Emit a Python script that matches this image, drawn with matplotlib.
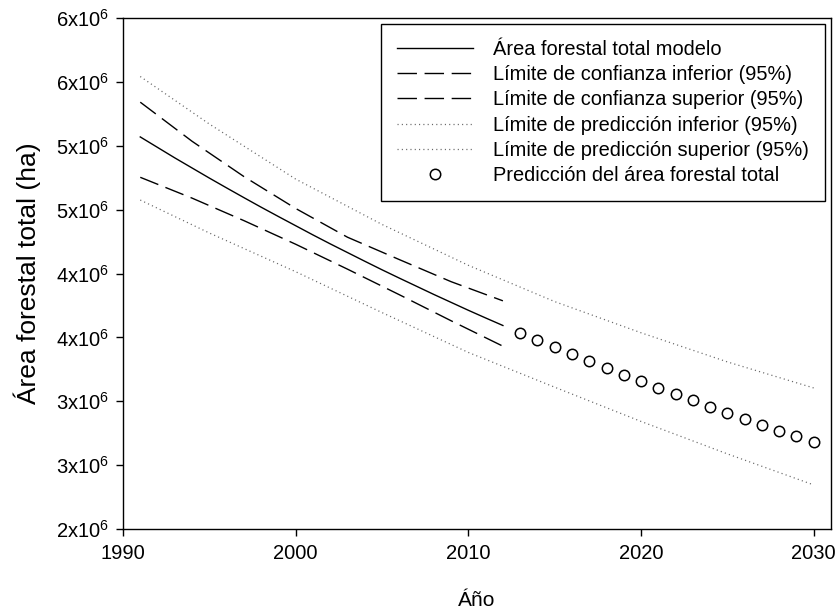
import matplotlib
matplotlib.use("Agg")
import matplotlib.pyplot as plt
import numpy as np

plt.rcParams['font.family'] = ['Liberation Sans', 'DejaVu Sans']
plt.rcParams['mathtext.fontset'] = 'custom'
plt.rcParams['mathtext.rm'] = 'Liberation Sans'
plt.rcParams['mathtext.it'] = 'Liberation Sans'
plt.rcParams['lines.scale_dashes'] = False

# ---- data (ha) ----
model_years = list(range(1991, 2013))
model_vals = [5.069e6, 4.987e6, 4.905e6, 4.826e6, 4.747e6, 4.670e6, 4.594e6, 4.519e6,
              4.446e6, 4.374e6, 4.302e6, 4.232e6, 4.164e6, 4.096e6, 4.029e6, 3.964e6,
              3.900e6, 3.836e6, 3.774e6, 3.712e6, 3.652e6, 3.593e6]

ci_years = [1991, 1994, 1997, 2000, 2003, 2006, 2009, 2012]
ci_lower = [4.753e6, 4.590e6, 4.414e6, 4.229e6, 4.034e6, 3.834e6, 3.630e6, 3.431e6]
ci_upper = [5.341e6, 5.035e6, 4.759e6, 4.509e6, 4.284e6, 4.109e6, 3.936e6, 3.786e6]

pi_years = [1991, 1995, 2000, 2005, 2010, 2015, 2020, 2025, 2030]
pi_lower = [4.575e6, 4.317e6, 4.014e6, 3.694e6, 3.382e6, 3.110e6, 2.842e6, 2.588e6, 2.345e6]
pi_upper = [5.542e6, 5.170e6, 4.739e6, 4.384e6, 4.064e6, 3.780e6, 3.536e6, 3.308e6, 3.104e6]

pred_years = list(range(2013, 2031))
pred_vals = [3.536e6, 3.483e6, 3.426e6, 3.371e6, 3.313e6, 3.261e6, 3.209e6, 3.159e6,
             3.104e6, 3.057e6, 3.007e6, 2.958e6, 2.911e6, 2.863e6, 2.816e6, 2.769e6,
             2.725e6, 2.681e6]

labels = ["Área forestal total modelo",
          "Límite de confianza inferior (95%)",
          "Límite de confianza superior (95%)",
          "Límite de predicción inferior (95%)",
          "Límite de predicción superior (95%)",
          "Predicción del área forestal total"]

x_ticks = [1990, 2000, 2010, 2020, 2030]
y_ticks = [2.0e6, 2.5e6, 3.0e6, 3.5e6, 4.0e6, 4.5e6, 5.0e6, 5.5e6, 6.0e6]
y_tick_labels = ["2", "3", "3", "4", "4", "5", "5", "6", "6"]

# ---- figure ----
fig = plt.figure(figsize=(8.39, 6.11), dpi=100)
ax = fig.add_axes([123/839, 82/611, (831-123)/839, (529-18)/611])

dash = (14.0, 5.5)
dot = (0.8, 2.3)
ax.plot(model_years, model_vals, color='black', lw=1.0, label=labels[0])
ax.plot(ci_years, ci_lower, color='black', lw=1.0, dashes=dash, label=labels[1])
ax.plot(ci_years, ci_upper, color='black', lw=1.0, dashes=dash, label=labels[2])
ax.plot(pi_years, pi_lower, color='0.4', lw=0.9, dashes=dot, label=labels[3])
ax.plot(pi_years, pi_upper, color='0.4', lw=0.9, dashes=dot, label=labels[4])
ax.plot(pred_years, pred_vals, linestyle='none', marker='o', ms=7.5,
        mfc='white', mec='black', mew=1.1, label=labels[5])

ax.set_xlim(1990, 2031)
ax.set_ylim(2.0e6, 6.0e6)
ax.set_xticks(x_ticks)
ax.set_xticklabels([str(t) for t in x_ticks])
ax.set_yticks(y_ticks)
ax.set_yticklabels([r'$\mathregular{%sx10^{6}}$' % s for s in y_tick_labels])

for sp in ax.spines.values():
    sp.set_linewidth(1.0)
ax.tick_params(axis='both', direction='out', length=5, width=1.0, labelsize=14.5,
               top=False, right=False)
ax.tick_params(axis='x', pad=6)
ax.tick_params(axis='y', pad=5)

ax.set_xlabel("Áño", fontsize=15, labelpad=20)
ax.set_ylabel("Área forestal total (ha)", fontsize=19, labelpad=11)

leg = ax.legend(loc='upper right', fontsize=14.4, frameon=True, fancybox=False,
                edgecolor='black', framealpha=1, handlelength=3.8,
                handletextpad=1.0, labelspacing=0.31, borderaxespad=0.3,
                borderpad=0.8)
leg.get_frame().set_linewidth(1.0)

fig.savefig("out.png", dpi=100)
